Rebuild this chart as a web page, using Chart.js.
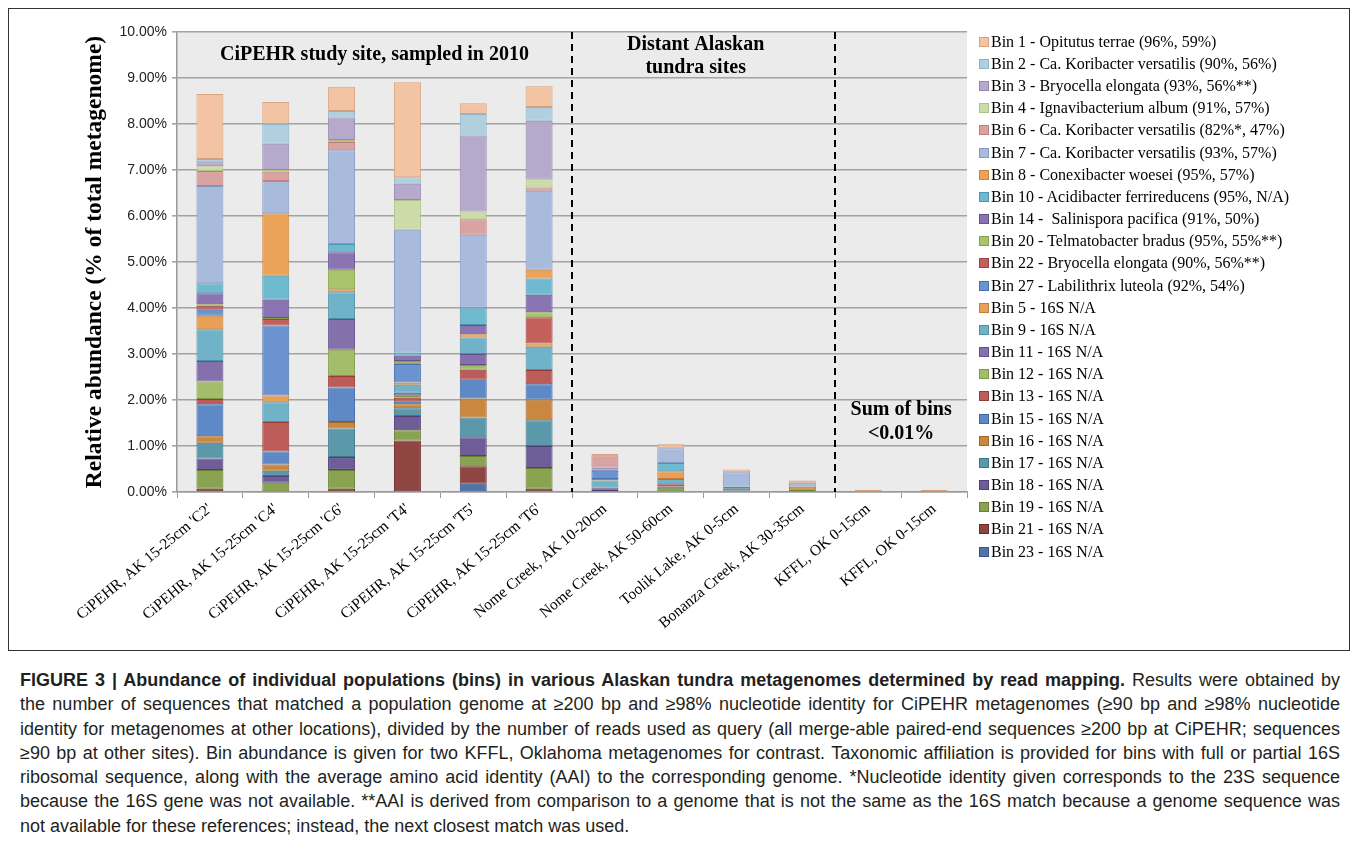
<!DOCTYPE html>
<html><head><meta charset="utf-8">
<script src="https://cdn.jsdelivr.net/npm/chart.js@4.4.1/dist/chart.umd.min.js"></script>
<style>
html,body{margin:0;padding:0;background:#fff;}
body{width:1358px;height:845px;position:relative;overflow:hidden;}
#frame{position:absolute;left:8px;top:8px;width:1342px;height:643px;border:1.5px solid #333;box-sizing:border-box;pointer-events:none;}
#c{position:absolute;left:0;top:0;}
#legend{position:absolute;left:0;top:0;font-family:"Liberation Serif",serif;font-size:16px;color:#000;}
.li{position:absolute;left:979px;white-space:pre;height:20px;line-height:20px;}
.sw{position:absolute;left:0;top:5px;width:10px;height:10px;box-sizing:border-box;border:1px solid;}
.lt{position:absolute;left:12px;top:0;}
#caption{position:absolute;left:20px;top:668px;width:1320px;font-family:"Liberation Sans",Arial,sans-serif;font-size:16px;line-height:24.3px;color:#231f20;}
.cl{white-space:nowrap;height:24.3px;}
</style></head>
<body>
<canvas id="c" width="1358" height="650"></canvas>
<div id="legend"></div>
<div id="frame"></div>
<div id="caption">
<div class="cl"><span><b>FIGURE 3 | Abundance of individual populations (bins) in various Alaskan tundra metagenomes determined by read mapping.</b> Results were obtained by</span></div>
<div class="cl"><span>the number of sequences that matched a population genome at ≥200 bp and ≥98% nucleotide identity for CiPEHR metagenomes (≥90 bp and ≥98% nucleotide</span></div>
<div class="cl"><span>identity for metagenomes at other locations), divided by the number of reads used as query (all merge-able paired-end sequences ≥200 bp at CiPEHR; sequences</span></div>
<div class="cl"><span>≥90 bp at other sites). Bin abundance is given for two KFFL, Oklahoma metagenomes for contrast. Taxonomic affiliation is provided for bins with full or partial 16S</span></div>
<div class="cl"><span>ribosomal sequence, along with the average amino acid identity (AAI) to the corresponding genome. *Nucleotide identity given corresponds to the 23S sequence</span></div>
<div class="cl"><span>because the 16S gene was not available. **AAI is derived from comparison to a genome that is not the same as the 16S match because a genome sequence was</span></div>
<div class="cl last"><span>not available for these references; instead, the next closest match was used.</span></div>
</div>
<script>
// ---------- data ----------
const categories = ["CiPEHR, AK 15-25cm 'C2'", "CiPEHR, AK 15-25cm 'C4'", "CiPEHR, AK 15-25cm 'C6'",
  "CiPEHR, AK 15-25cm 'T4'", "CiPEHR, AK 15-25cm 'T5'", "CiPEHR, AK 15-25cm 'T6'",
  "Nome Creek, AK 10-20cm", "Nome Creek, AK 50-60cm", "Toolik Lake, AK 0-5cm",
  "Bonanza Creek, AK 30-35cm", "KFFL, OK 0-15cm", "KFFL, OK 0-15cm"];

const yTicks = [0,1,2,3,4,5,6,7,8,9,10];

// values in % of total metagenome, per category (same order as categories)
const bin23 = [0, 0, 0, 0, 0.18, 0, 0, 0, 0, 0, 0, 0];
const bin21 = [0.07, 0, 0.07, 1.12, 0.38, 0.07, 0.02, 0, 0, 0.02, 0, 0];
const bin19 = [0.41, 0.20, 0.41, 0.22, 0.22, 0.45, 0, 0.09, 0, 0.03, 0, 0];
const bin18 = [0.25, 0.15, 0.28, 0.31, 0.41, 0.48, 0.06, 0.03, 0.03, 0, 0, 0];
const bin17 = [0.34, 0.11, 0.62, 0.17, 0.43, 0.56, 0, 0, 0.05, 0, 0, 0];
const bin16 = [0.14, 0.14, 0.14, 0.09, 0.41, 0.45, 0, 0, 0, 0.07, 0, 0];
const bin15 = [0.70, 0.28, 0.75, 0.05, 0.41, 0.33, 0, 0, 0, 0, 0, 0];
const bin13 = [0.11, 0.64, 0.25, 0.09, 0.22, 0.31, 0.02, 0.05, 0, 0, 0, 0];
const bin12 = [0.38, 0, 0.57, 0.04, 0.10, 0, 0, 0, 0, 0, 0, 0];
const bin11 = [0.45, 0, 0.67, 0.07, 0.24, 0, 0, 0, 0, 0, 0, 0];
const bin9  = [0.69, 0.43, 0.58, 0.17, 0.36, 0.51, 0.15, 0.11, 0.04, 0, 0, 0];
const bin5  = [0.29, 0.15, 0.07, 0.05, 0.07, 0.07, 0.03, 0.17, 0, 0, 0, 0];
const bin27 = [0.13, 1.52, 0, 0.40, 0, 0, 0.18, 0, 0, 0, 0, 0];
const bin22 = [0.09, 0.14, 0, 0.02, 0, 0.57, 0, 0, 0, 0, 0, 0];
const bin20 = [0.03, 0.02, 0.42, 0.05, 0, 0.11, 0, 0, 0, 0, 0, 0];
const bin14 = [0.24, 0.40, 0.38, 0.11, 0.20, 0.38, 0.03, 0, 0, 0, 0, 0];
const bin10 = [0.22, 0.52, 0.18, 0.07, 0.38, 0.35, 0, 0.18, 0, 0, 0, 0];
const bin8  = [0, 1.36, 0, 0, 0, 0.19, 0, 0, 0, 0, 0, 0];
const bin7  = [2.11, 0.70, 2.04, 2.67, 1.58, 1.72, 0.04, 0.32, 0.31, 0.08, 0.01, 0.01];
const bin6  = [0.33, 0.20, 0.18, 0, 0.34, 0.07, 0.27, 0, 0, 0, 0, 0];
const bin4  = [0.10, 0.04, 0.04, 0.65, 0.17, 0.19, 0, 0, 0, 0, 0, 0];
const bin3  = [0.09, 0.57, 0.49, 0.35, 1.65, 1.26, 0, 0, 0, 0, 0, 0];
const bin2  = [0.07, 0.43, 0.14, 0.14, 0.47, 0.30, 0, 0, 0, 0, 0, 0];
const bin1  = [1.41, 0.48, 0.53, 2.07, 0.23, 0.45, 0.03, 0.09, 0.06, 0.05, 0.04, 0.04];

// stacking order, bottom to top
const seriesNames = ["Bin 23 - 16S N/A","Bin 21 - 16S N/A","Bin 19 - 16S N/A","Bin 18 - 16S N/A",
  "Bin 17 - 16S N/A","Bin 16 - 16S N/A","Bin 15 - 16S N/A","Bin 13 - 16S N/A","Bin 12 - 16S N/A",
  "Bin 11 - 16S N/A","Bin 9 - 16S N/A","Bin 5 - 16S N/A",
  "Bin 27 - Labilithrix luteola (92%, 54%)","Bin 22 - Bryocella elongata (90%, 56%**)",
  "Bin 20 - Telmatobacter bradus (95%, 55%**)","Bin 14 -  Salinispora pacifica (91%, 50%)",
  "Bin 10 - Acidibacter ferrireducens (95%, N/A)","Bin 8 - Conexibacter woesei (95%, 57%)",
  "Bin 7 - Ca. Koribacter versatilis (93%, 57%)","Bin 6 - Ca. Koribacter versatilis (82%*, 47%)",
  "Bin 4 - Ignavibacterium album (91%, 57%)","Bin 3 - Bryocella elongata (93%, 56%**)",
  "Bin 2 - Ca. Koribacter versatilis (90%, 56%)","Bin 1 - Opitutus terrae (96%, 59%)"];
const seriesValues = [bin23,bin21,bin19,bin18,bin17,bin16,bin15,bin13,bin12,bin11,bin9,bin5,
  bin27,bin22,bin20,bin14,bin10,bin8,bin7,bin6,bin4,bin3,bin2,bin1];

// ---------- styles ----------
const fillColors = ["#4F74A8","#8F4542","#89A350","#6F5D98","#5A98AA","#C9873F","#5E88C6","#BC5C58",
  "#A3BD6A","#8470AA","#70B3C9","#E8A058","#6A93D0","#C4605C","#A9C46C","#8A74B2","#70BAD0","#EBA35A",
  "#A9BBDD","#D9A3A2","#CCDBA9","#B7A9CC","#B0D0E0","#F2C4A4"];
const edgeColors = ["#355689","#6D2826","#677F32","#504077","#3B7789","#A36623","#3D66A4","#963C38",
  "#7F9A47","#634F89","#4E91A7","#C27E38","#4770AE","#9E403C","#86A149","#67518F","#4C97AE","#C9843B",
  "#8599C2","#BF7F7E","#AFC283","#9685AF","#8EB3C6","#D9A27F"];

const datasets = seriesNames.map((n, i) => ({
  label: n,
  data: seriesValues[i],
  backgroundColor: fillColors[i],
  borderColor: edgeColors[i],
  borderWidth: c => (c.raw > 0 ? 1 : 0),
  borderSkipped: false,
  stack: 's',
  categoryPercentage: 1.0,
  barPercentage: 0.41
}));

// ---------- plugins ----------
const plotBg = {
  id: 'plotBg',
  beforeDraw(chart) {
    const {ctx, chartArea: a} = chart;
    ctx.save();
    ctx.fillStyle = '#ebebeb';
    ctx.fillRect(a.left, a.top, a.right - a.left, a.bottom - a.top);
    ctx.restore();
  }
};
const overlay = {
  id: 'overlay',
  afterDatasetsDraw(chart) {
    const {ctx, chartArea: a, scales: {x, y}} = chart;
    ctx.save();
    ctx.strokeStyle = '#000';
    ctx.lineWidth = 2;
    ctx.setLineDash([7, 5]);
    [[5, 6], [9, 10]].forEach(([i, j]) => {
      const px = Math.round((x.getPixelForValue(i) + x.getPixelForValue(j)) / 2);
      ctx.beginPath();
      ctx.moveTo(px, a.top);
      ctx.lineTo(px, a.bottom);
      ctx.stroke();
    });
    ctx.setLineDash([]);
    ctx.fillStyle = '#000';
    ctx.textAlign = 'center';
    ctx.textBaseline = 'middle';
    ctx.font = 'bold 20px "Liberation Serif"';
    const cx = (i, j) => (x.getPixelForValue(i) + x.getPixelForValue(j)) / 2;
    ctx.fillText('CiPEHR study site, sampled in 2010', cx(0, 5), y.getPixelForValue(9.5));
    ctx.fillText('Distant Alaskan', cx(6, 9) - 8, y.getPixelForValue(9.72));
    ctx.fillText('tundra sites', cx(6, 9) - 8, y.getPixelForValue(9.22));
    ctx.fillText('Sum of bins', cx(10, 11), y.getPixelForValue(1.78));
    ctx.fillText('<0.01%', cx(10, 11), y.getPixelForValue(1.26));
    ctx.restore();
  }
};

new Chart(document.getElementById('c'), {
  type: 'bar',
  data: {labels: categories, datasets},
  options: {
    responsive: false,
    animation: false,
    devicePixelRatio: 1,
    layout: {padding: {top: 32, left: 0, right: 391, bottom: 0}},
    plugins: {legend: {display: false}, tooltip: {enabled: false}},
    scales: {
      x: {
        stacked: true,
        offset: true,
        afterFit: s => { s.height = 158; },
        grid: {display: true, drawOnChartArea: false, drawTicks: true, tickLength: 6, color: '#999', offset: true},
        border: {display: true, color: '#999', width: 1.5},
        ticks: {autoSkip: false, maxRotation: 40, minRotation: 40, padding: 2, color: '#000',
          font: {family: 'Liberation Serif', size: 15.5}}
      },
      y: {
        stacked: true,
        min: 0, max: 10,
        afterFit: s => { s.width = 177; },
        afterBuildTicks: s => { s.ticks = yTicks.map(v => ({value: v})); },
        grid: {color: '#a3a3a3', lineWidth: 1.6, tickLength: 5},
        border: {display: true, color: '#999', width: 1.5},
        ticks: {padding: 5, color: '#222', font: {family: 'Liberation Sans', size: 14},
          callback: v => v.toFixed(2) + '%'},
        title: {display: true, text: 'Relative abundance (% of total metagenome)', color: '#000',
          font: {family: 'Liberation Serif', size: 23.5, weight: 'bold'}, padding: {top: 81, bottom: 0}}
      }
    }
  },
  plugins: [plotBg, overlay]
});

// legend (top of stack first)
const lg = document.getElementById('legend');
for (let k = seriesNames.length - 1, r = 0; k >= 0; k--, r++) {
  const d = document.createElement('div');
  d.className = 'li';
  d.style.top = (41.7 + r * 22.17 - 10) + 'px';
  d.innerHTML = '<span class="sw" style="background:' + fillColors[k] + ';border-color:' + edgeColors[k] + '"></span><span class="lt"></span>';
  d.querySelector('.lt').textContent = seriesNames[k];
  lg.appendChild(d);
}

// caption: size text so the longest justified line fills the width, then justify by word spacing
const cap = document.getElementById('caption');
const lines = Array.from(cap.querySelectorAll('.cl'));
const W = 1320;
let maxW = 0;
lines.forEach(l => { if (!l.classList.contains('last')) maxW = Math.max(maxW, l.firstElementChild.getBoundingClientRect().width); });
const fs = Math.min(18, 16 * W / maxW);
cap.style.fontSize = fs.toFixed(2) + 'px';
lines.forEach(l => {
  if (l.classList.contains('last')) return;
  const sp = l.firstElementChild;
  const w = sp.getBoundingClientRect().width;
  const n = (sp.textContent.match(/ /g) || []).length;
  if (n > 0) l.style.wordSpacing = ((W - w) / n).toFixed(3) + 'px';
});
</script>
</body></html>
